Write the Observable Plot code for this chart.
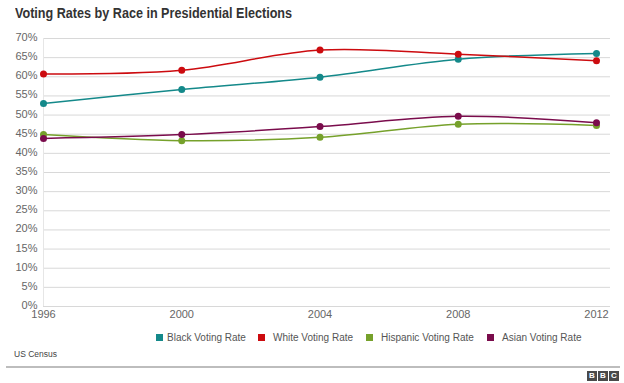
<!DOCTYPE html>
<html><head><meta charset="utf-8">
<script src="https://cdn.jsdelivr.net/npm/d3@7"></script>
<script src="https://cdn.jsdelivr.net/npm/@observablehq/plot@0.6"></script>
<style>
body{margin:0;width:624px;height:383px;background:#fff;font-family:"Liberation Sans",Arial,sans-serif;position:relative;overflow:hidden}
#title{position:absolute;left:15px;top:5px;font-size:14px;font-weight:bold;color:#333;transform:scaleX(0.9);transform-origin:left;white-space:nowrap}
#chart{position:absolute;left:0;top:28px}
#legend{position:absolute;top:331px;left:0;width:624px;height:14px;font-size:10px;color:#555}
.sw{position:absolute;top:3px;width:7px;height:7px}
.lt{position:absolute;top:0;line-height:13px;white-space:nowrap}
#source{position:absolute;left:14px;top:349px;font-size:8.5px;color:#444}
#rule{position:absolute;left:6px;top:366px;width:614px;height:2px;background:#bdbdbd}
#bbc{position:absolute;left:587px;top:371px;display:flex;gap:1px}
#bbc span{width:10px;height:10px;background:#4a4a4a;color:#fff;font-size:8px;font-weight:bold;line-height:10px;text-align:center}
</style></head>
<body>
<div id="title">Voting Rates by Race in Presidential Elections</div>
<div id="chart"></div>
<div id="legend"></div>
<div id="source">US Census</div>
<div id="rule"></div>
<div id="bbc"><span>B</span><span>B</span><span>C</span></div>
<script>
const years = [1996, 2000, 2004, 2008, 2012];
const seriesNames = ["Black Voting Rate", "White Voting Rate", "Hispanic Voting Rate", "Asian Voting Rate"];
const black = [53.0, 56.7, 59.9, 64.6, 66.1];
const white = [60.7, 61.7, 67.0, 65.9, 64.2];
const hispanic = [44.9, 43.3, 44.2, 47.6, 47.3];
const asian = [43.9, 44.9, 47.0, 49.7, 48.0];
const colors = ["#14898a", "#cc0b0f", "#76a12b", "#7a0c4c"];
const yTicks = [0,5,10,15,20,25,30,35,40,45,50,55,60,65,70];

const all = [black, white, hispanic, asian];
const data = [];
all.forEach((vals, i) => vals.forEach((v, j) => data.push({series: seriesNames[i], year: years[j], value: v})));

const chart = Plot.plot({
  width: 624, height: 294,
  marginLeft: 43, marginRight: 14, marginTop: 10, marginBottom: 16,
  style: {fontFamily: "'Liberation Sans', Arial, sans-serif", fontSize: "11px", color: "#666"},
  x: {domain: [1996, 2012.405], ticks: years, tickFormat: d => String(d), label: null},
  y: {domain: [0, 70], ticks: yTicks, tickFormat: d => d + "%", label: null},
  color: {domain: seriesNames, range: colors},
  marks: [
    Plot.gridY(yTicks, {stroke: "#d8d8d8", strokeOpacity: 1, strokeWidth: 1}),
    Plot.ruleX([1996], {stroke: "#e6e6e6"}),
    Plot.axisY({ticks: yTicks, tickSize: 0, tickPadding: 6, dy: -1, tickFormat: d => d + "%", fill: "#666"}),
    Plot.axisX({ticks: years, tickSize: 0, tickPadding: 4, tickFormat: d => String(d), fill: "#666"}),
    Plot.line(data, {x: "year", y: "value", z: "series", stroke: "series", curve: "catmull-rom", strokeWidth: 1.5}),
    Plot.dot(data, {x: "year", y: "value", fill: "series", r: 3.5, stroke: "none"})
  ]
});
document.getElementById("chart").appendChild(chart);

const swatchX = [156, 258, 366, 487];
const labelX = [167, 273, 381, 502];
const lg = document.getElementById("legend");
seriesNames.forEach((n, i) => {
  const s = document.createElement("div");
  s.className = "sw";
  s.style.left = swatchX[i] + "px";
  s.style.background = colors[i];
  lg.appendChild(s);
  const t = document.createElement("div");
  t.className = "lt";
  t.style.left = labelX[i] + "px";
  t.textContent = n;
  lg.appendChild(t);
});
</script>
</body></html>
